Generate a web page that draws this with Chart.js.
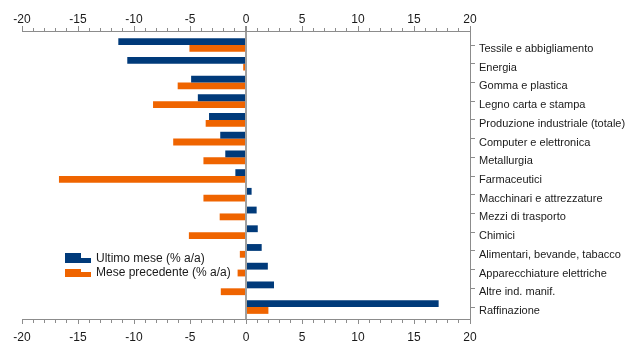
<!DOCTYPE html>
<html>
<head>
<meta charset="utf-8">
<script src="https://cdn.jsdelivr.net/npm/chart.js@4"></script>
<style>
  body { margin: 0; background: #fff; }
  #wrap { position: relative; width: 627px; height: 343px; }
  #legend { position: absolute; left: 65px; top: 251px; font: 12px "Liberation Sans", Arial, sans-serif; color: #1a1a1a; }
  .row { position: relative; height: 14px; line-height: 14px; padding-left: 31px; white-space: nowrap; }
  .sw { position: absolute; bottom: 2px; }
</style>
</head>
<body>
<div id="wrap">
  <canvas id="chart" width="627" height="343"></canvas>
  <div id="legend"></div>
</div>
<script>
// settori, dall'alto verso il basso
const categories = [
  'Tessile e abbigliamento',
  'Energia',
  'Gomma e plastica',
  'Legno carta e stampa',
  'Produzione industriale (totale)',
  'Computer e elettronica',
  'Metallurgia',
  'Farmaceutici',
  'Macchinari e attrezzature',
  'Mezzi di trasporto',
  'Chimici',
  'Alimentari, bevande, tabacco',
  'Apparecchiature elettriche',
  'Altre ind. manif.',
  'Raffinazione'
];

const ultimoMese = [-11.4, -10.6, -4.9, -4.3, -3.3, -2.3, -1.85, -0.95, 0.5, 0.95, 1.05, 1.4, 1.95, 2.5, 17.2];
const mesePrecedente = [-5.05, -0.25, -6.1, -8.3, -3.6, -6.5, -3.8, -16.7, -3.8, -2.35, -5.1, -0.55, -0.75, -2.25, 2.0];

const seriesNames = ['Ultimo mese (% a/a)', 'Mese precedente (% a/a)'];
const colors = ['#003a7a', '#ef6400'];

const axisColor = '#8c8c8c';
const textColor = '#1a1a1a';

Chart.defaults.font.family = '"Liberation Sans", Arial, sans-serif';
Chart.defaults.color = textColor;

function toPoints(values) {
  return values.map((v, i) => ({ x: v, y: i }));
}

const isMajor = (v) => v % 5 === 0;

new Chart(document.getElementById('chart'), {
  type: 'bar',
  data: {
    datasets: [
      { label: seriesNames[0], data: toPoints(ultimoMese), backgroundColor: colors[0] },
      { label: seriesNames[1], data: toPoints(mesePrecedente), backgroundColor: colors[1] }
    ]
  },
  options: {
    indexAxis: 'y',
    responsive: false,
    animation: false,
    layout: { padding: { left: 22, right: 0, top: 0, bottom: 0 } },
    datasets: { bar: { categoryPercentage: 0.73, barPercentage: 1 } },
    plugins: { legend: { display: false }, tooltip: { enabled: false } },
    scales: {
      x: {
        type: 'linear',
        position: 'top',
        min: -20,
        max: 20,
        afterFit: (s) => { s.height = 31; },
        ticks: {
          stepSize: 1,
          autoSkip: false,
          maxRotation: 0,
          padding: -1,
          font: { size: 12 },
          callback: (v) => isMajor(v) ? String(v) : ''
        },
        grid: {
          color: (ctx) => ctx.tick && ctx.tick.value === 0 ? '#a0a0a0' : 'rgba(0,0,0,0)',
          lineWidth: (ctx) => ctx.tick && ctx.tick.value === 0 ? 2 : 1,
          tickColor: axisColor,
          tickLength: 5,
          tickBorderDash: (ctx) => isMajor(ctx.tick.value) ? [] : [0, 2, 3, 100]
        },
        border: { color: axisColor }
      },
      x2: {
        type: 'linear',
        position: 'bottom',
        min: -20,
        max: 20,
        afterFit: (s) => { s.height = 24; },
        ticks: {
          stepSize: 1,
          autoSkip: false,
          maxRotation: 0,
          padding: 6,
          font: { size: 12 },
          callback: (v) => isMajor(v) ? String(v) : ''
        },
        grid: {
          drawOnChartArea: false,
          color: axisColor,
          tickLength: 5,
          tickBorderDash: (ctx) => isMajor(ctx.tick.value) ? [] : [3, 100]
        },
        border: { color: axisColor }
      },
      y: {
        type: 'linear',
        position: 'right',
        reverse: true,
        offset: false,
        bounds: 'data',
        min: -0.75,
        max: 14.64,
        afterFit: (s) => { s.width = 157; },
        afterBuildTicks: (s) => { s.ticks = categories.map((c, i) => ({ value: i })); },
        ticks: {
          autoSkip: false,
          padding: 4,
          labelOffset: 4,
          font: { size: 11 },
          callback: (v) => categories[v]
        },
        grid: { drawOnChartArea: false, offset: false, color: axisColor, tickLength: 5 },
        border: { color: axisColor }
      }
    }
  }
});

// legenda dentro l'area del grafico
const legend = document.getElementById('legend');
seriesNames.forEach((name, i) => {
  const row = document.createElement('div');
  row.className = 'row';
  const tall = i === 0 ? 10 : 8;
  row.innerHTML =
    '<span class="sw" style="left:0;width:16px;height:' + tall + 'px;background:' + colors[i] + '"></span>' +
    '<span class="sw" style="left:16px;width:10px;height:5px;background:' + colors[i] + '"></span>' +
    name;
  legend.appendChild(row);
});
</script>
</body>
</html>
